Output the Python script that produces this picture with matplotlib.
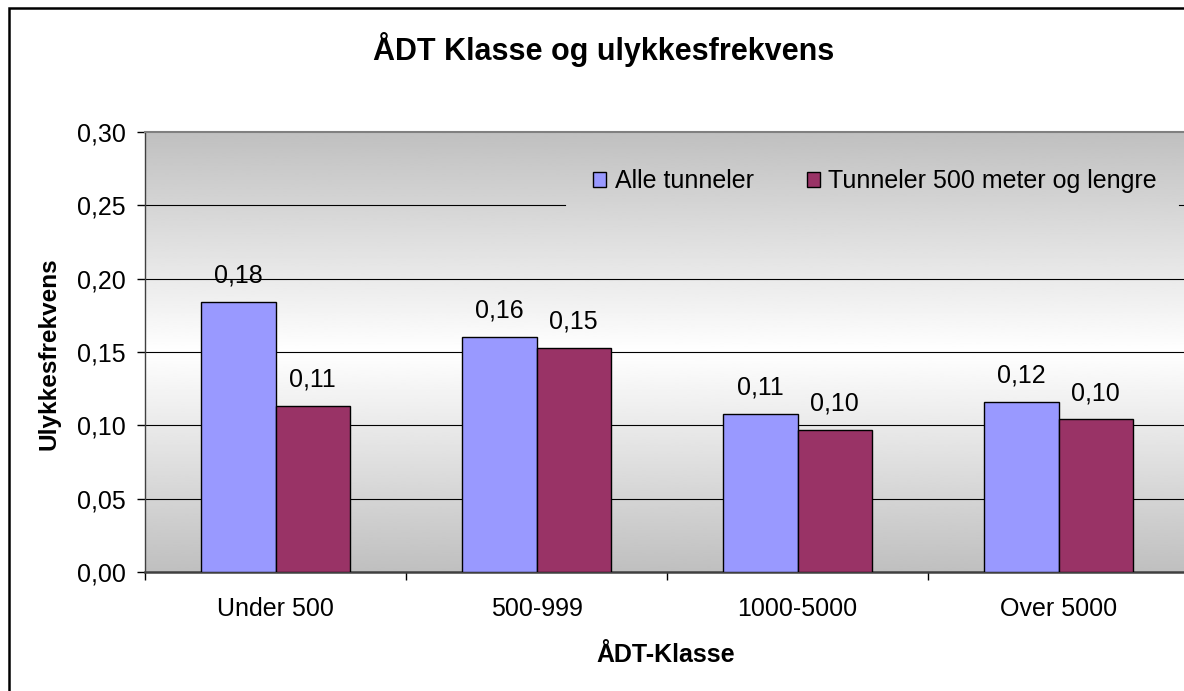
import matplotlib
matplotlib.use("Agg")
import matplotlib.pyplot as plt
import numpy as np
from matplotlib.patches import Rectangle
from matplotlib.ticker import FuncFormatter

categories = ["Under 500", "500-999", "1000-5000", "Over 5000"]
alle = [0.184, 0.160, 0.108, 0.116]
lange = [0.113, 0.153, 0.097, 0.104]
series_names = ["Alle tunneler", "Tunneler 500 meter og lengre"]
yticks = [0.00, 0.05, 0.10, 0.15, 0.20, 0.25, 0.30]


def komma(v, pos=None):
    return f"{v:.2f}".replace(".", ",")


plt.rcParams["font.family"] = ["Liberation Sans", "DejaVu Sans"]
fs = 18

W, H = 1184, 691
fig = plt.figure(figsize=(W / 100, H / 100), dpi=100)
ax = fig.add_axes([145 / W, 1 - 572 / H, 1044 / W, 440 / H])

# grey-white-grey background like the excel plot area
t = np.linspace(0, 1, 256)
shade = 0.75 + 0.25 * (1 - np.abs(2 * t - 1))
ax.imshow(shade[:, None], extent=(0, 1, 0, 1), transform=ax.transAxes,
          cmap="gray", vmin=0, vmax=1, aspect="auto", origin="lower",
          interpolation="bilinear", zorder=0)

x = np.arange(len(categories))
w = 1 / 3.5
b1 = ax.bar(x - w / 2, alle, w, color="#9999ff", edgecolor="black", lw=1,
            label=series_names[0], zorder=3)
b2 = ax.bar(x + w / 2, lange, w, color="#993366", edgecolor="black", lw=1,
            label=series_names[1], zorder=3)

for bars, vals in ((b1, alle), (b2, lange)):
    for r, v in zip(bars, vals):
        ax.annotate(komma(v), (r.get_x() + r.get_width() / 2, v),
                    xytext=(0, 14), textcoords="offset points",
                    ha="center", va="baseline", fontsize=fs, zorder=4)

# gridlines, the 0.25 one is hidden behind the legend
for y in yticks[1:-1]:
    if y == 0.25:
        ax.axhline(y, xmin=0, xmax=(565 - 145) / 1044, color="black", lw=0.8, zorder=1)
        ax.axhline(y, xmin=(1179 - 145) / 1044, xmax=1, color="black", lw=0.8, zorder=1)
    else:
        ax.axhline(y, color="black", lw=0.8, zorder=1)

ax.set_xlim(-0.5, len(categories) - 0.5)
ax.set_ylim(0, 0.30)
ax.set_yticks(yticks)
ax.yaxis.set_major_formatter(FuncFormatter(komma))
ax.tick_params(axis="y", direction="out", length=6, width=1, pad=8, labelsize=fs)

ax.set_xticks(np.arange(-0.5, len(categories), 1))
ax.set_xticklabels([])
ax.set_xticks(x, minor=True)
ax.set_xticklabels(categories, minor=True)
ax.tick_params(axis="x", which="major", direction="out", length=6, width=1)
ax.tick_params(axis="x", which="minor", length=0, pad=18, labelsize=fs)

ax.spines["top"].set_color("#808080")
ax.spines["top"].set_linewidth(1.5)
ax.spines["right"].set_visible(False)
ax.spines["left"].set_color("#404040")
ax.spines["left"].set_linewidth(1)
ax.spines["bottom"].set_color("#404040")
ax.spines["bottom"].set_linewidth(1.8)

ax.legend(loc="center left", bbox_to_anchor=(593 / W, 1 - 181 / H),
          bbox_transform=fig.transFigure, frameon=False, ncol=2, fontsize=fs,
          handlelength=0.52, handleheight=0.55, handletextpad=0.36,
          columnspacing=2.1, borderpad=0, borderaxespad=0)

fig.text(604 / W, 1 - 60 / H, "ÅDT Klasse og ulykkesfrekvens", ha="center",
         va="baseline", fontsize=22, fontweight="bold")
fig.text(49 / W, 1 - 354 / H, "Ulykkesfrekvens", rotation=90, ha="center",
         va="center", fontsize=17.5, fontweight="bold")
fig.text(666 / W, 1 - 662 / H, "ÅDT-Klasse", ha="center", va="baseline",
         fontsize=fs, fontweight="bold")

# chart border
fig.patches.append(Rectangle((8.5 / W, -0.1), 1.2, 1.1 - 8.5 / H, fill=False,
                             lw=1.8, edgecolor="black", transform=fig.transFigure))

fig.savefig("out.png", dpi=100)
